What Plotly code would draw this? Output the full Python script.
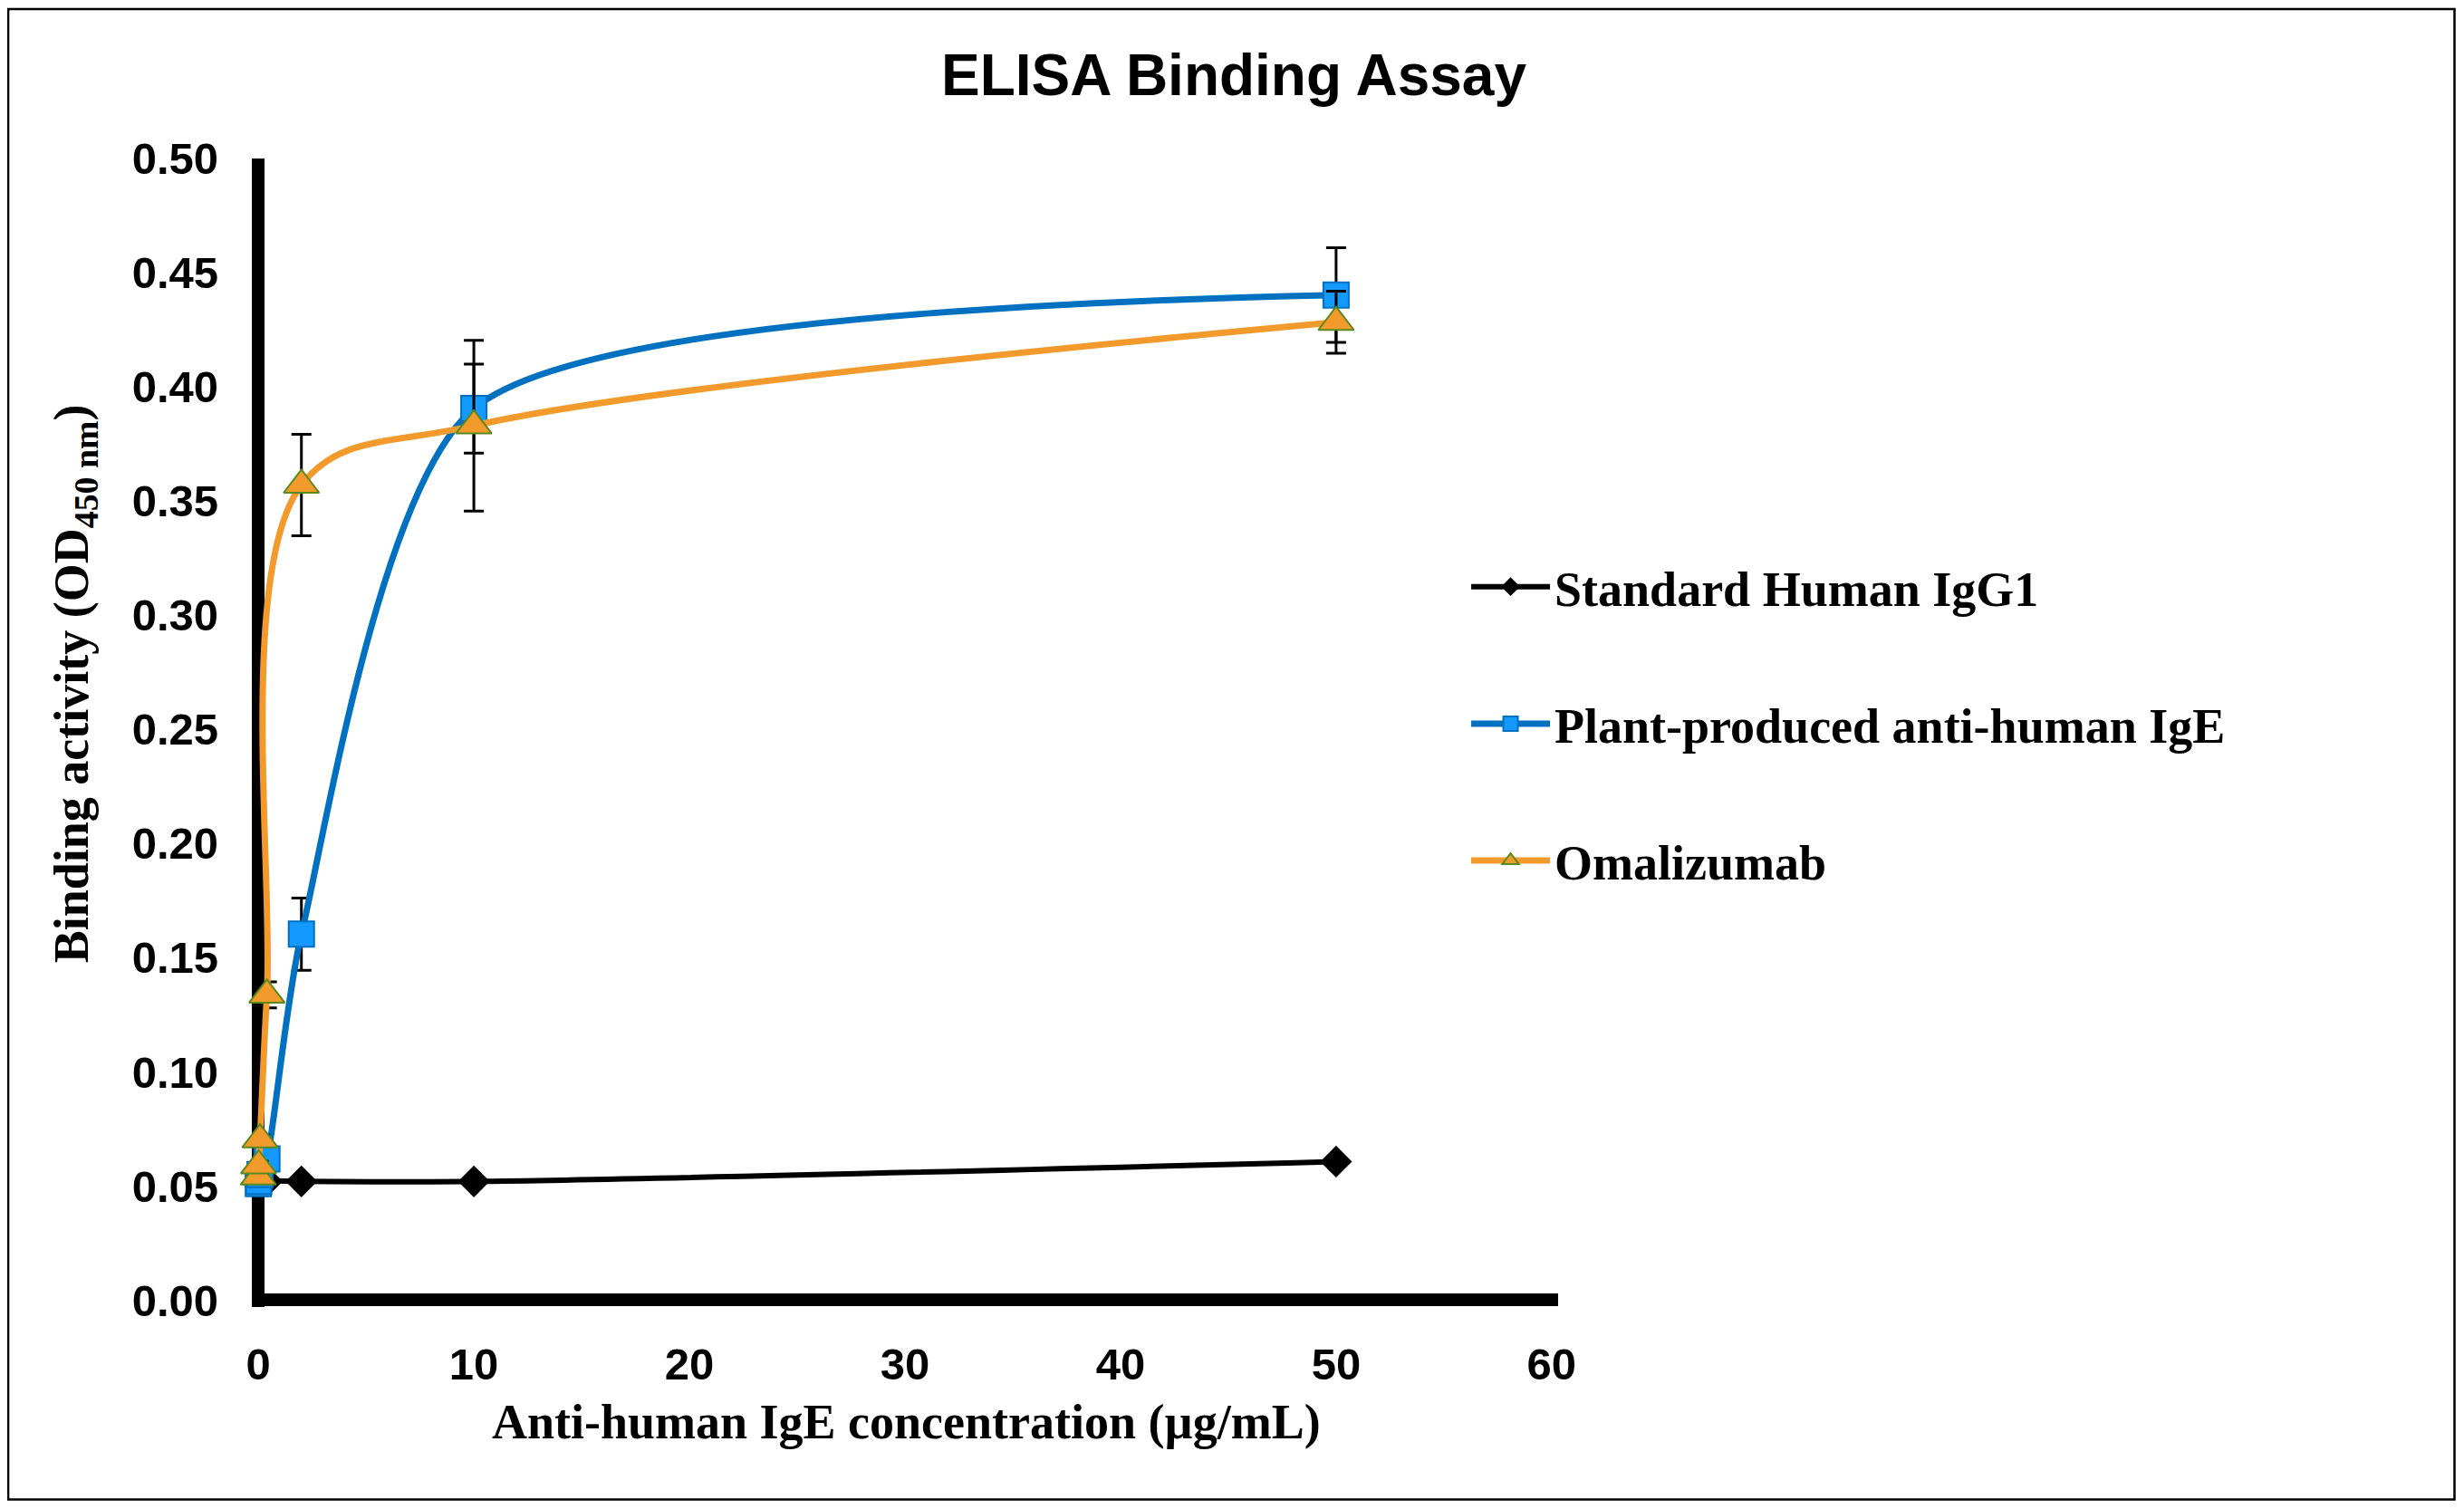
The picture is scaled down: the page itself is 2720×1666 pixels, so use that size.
import plotly.graph_objects as go

# concentrations (ug/mL), 5-fold dilution series
conc = [0.0032, 0.016, 0.08, 0.4, 2, 10, 50]

igg1 = [0.051, 0.051, 0.051, 0.052, 0.052, 0.052, 0.0607]

plant = [0.051, 0.052, 0.055, 0.0619, 0.1603, 0.3905, 0.4402]
plant_err = [0.001, 0.001, 0.002, 0.003, 0.0158, 0.0195, 0.0207]

omali = [0.054, 0.0589, 0.0703, 0.1337, 0.357, 0.383, 0.4283]
omali_err = [0.001, 0.002, 0.002, 0.0057, 0.0222, 0.0374, 0.0136]

names = ["Standard Human IgG1", "Plant-produced anti-human IgE", "Omalizumab"]

x_ticks = [0, 10, 20, 30, 40, 50, 60]
y_ticks = [0.00, 0.05, 0.10, 0.15, 0.20, 0.25, 0.30, 0.35, 0.40, 0.45, 0.50]

serif = "Liberation Serif, Times New Roman, serif"
sans = "Liberation Sans, Arial, sans-serif"

fig = go.Figure()

fig.add_trace(go.Scatter(
    x=conc, y=igg1, name=names[0], legendgroup="a",
    mode="lines+markers", line=dict(color="black", width=6, shape="spline"),
    marker=dict(symbol="diamond", size=27, color="black"),
    cliponaxis=False))

fig.add_trace(go.Scatter(
    x=conc, y=plant, name=names[1], legendgroup="b",
    mode="lines+markers", line=dict(color="#0070C0", width=7, shape="spline", smoothing=0.7),
    marker=dict(symbol="square", size=28, color="#1499FF",
                line=dict(color="#0070C0", width=2)),
    error_y=dict(type="data", array=plant_err, color="black", thickness=3, width=11),
    cliponaxis=False))

fig.add_trace(go.Scatter(
    x=conc, y=omali, name=names[2], legendgroup="c",
    mode="lines+markers", line=dict(color="#F39A2C", width=7, shape="spline"),
    marker=dict(symbol="triangle-up", size=34, color="#F29B2C",
                line=dict(color="#5A8A1E", width=2)),
    error_y=dict(type="data", array=omali_err, color="black", thickness=3, width=11),
    cliponaxis=False))

fig.update_layout(
    width=2720, height=1666,
    margin=dict(l=270, r=1008, t=167, b=231, pad=0),
    paper_bgcolor="white", plot_bgcolor="white",
    title=dict(text="ELISA Binding Assay", x=0.4978, y=0.955, xref="container",
               yref="container", xanchor="center", yanchor="middle",
               font=dict(family=sans, size=64, color="black", weight="bold")),
    showlegend=True,
    legend=dict(x=0.93, y=0.660, xanchor="left", yanchor="top",
                traceorder="grouped", tracegroupgap=78, itemwidth=87,
                font=dict(family=serif, size=54, color="black", weight="bold"),
                bgcolor="rgba(0,0,0,0)"),
)

fig.update_xaxes(
    range=[-0.3, 60.3], tickvals=x_ticks, ticktext=[str(v) for v in x_ticks],
    showgrid=False, showline=False, zeroline=True, zerolinecolor="black",
    zerolinewidth=14, ticks="", ticklabelstandoff=30,
    tickfont=dict(family=sans, size=49, color="black", weight="bold"))

fig.update_yaxes(
    range=[-0.003, 0.5], tickvals=y_ticks, ticktext=["%.2f" % v for v in y_ticks],
    showgrid=False, showline=False, zeroline=True, zerolinecolor="black",
    zerolinewidth=14, ticks="", ticklabelstandoff=36,
    tickfont=dict(family=sans, size=49, color="black", weight="bold"))

# axis titles
fig.add_annotation(text="Anti-human IgE concentration (µg/mL)", xref="paper", yref="paper",
                   x=0.5007, y=-0.1005, xanchor="center", yanchor="middle", showarrow=False,
                   font=dict(family=serif, size=54, color="black", weight="bold"))
fig.add_annotation(text="Binding activity (OD<sub>450 nm</sub>)", xref="paper", yref="paper",
                   x=-0.1359, y=0.5424, xanchor="center", yanchor="middle", showarrow=False,
                   textangle=-90,
                   font=dict(family=serif, size=54, color="black", weight="bold"))

# chart border
fig.add_shape(type="rect", xref="paper", yref="paper",
              x0=-0.1865, x1=1.6862, y0=-0.1676, y1=1.1302,
              line=dict(color="black", width=2.5), layer="below")

fig.write_html("out.html")
